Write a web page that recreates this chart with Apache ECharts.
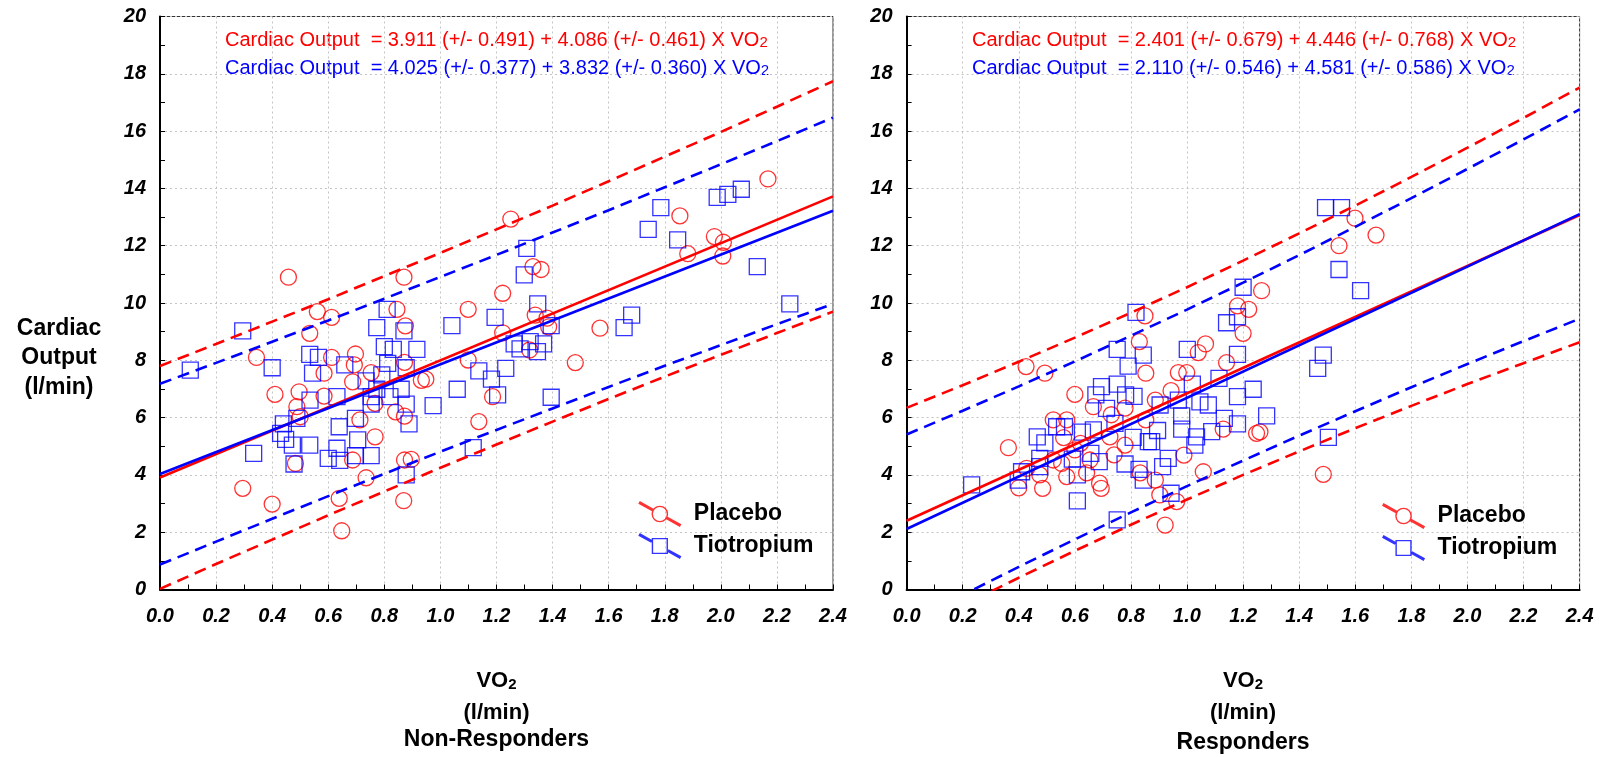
<!DOCTYPE html>
<html><head><meta charset="utf-8">
<script src="https://cdn.jsdelivr.net/npm/echarts@6/dist/echarts.min.js"></script>
<style>html,body{margin:0;padding:0;background:#fff}#c{width:1604px;height:757px}</style>
</head><body><div id="c"></div>
<script>
// ---------- DATA ----------
const xTickLabels = ['0.0','0.2','0.4','0.6','0.8','1.0','1.2','1.4','1.6','1.8','2.0','2.2','2.4'];
const yTickLabels = ['0','2','4','6','8','10','12','14','16','18','20'];
const panelTitles = ['Non-Responders', 'Responders'];
const seriesNames = ['Placebo', 'Tiotropium'];

const nrEquations = [
  'Cardiac Output  = 3.911 (+/- 0.491) + 4.086 (+/- 0.461) X VO',
  'Cardiac Output  = 4.025 (+/- 0.377) + 3.832 (+/- 0.360) X VO'
];
const rEquations = [
  'Cardiac Output  = 2.401 (+/- 0.679) + 4.446 (+/- 0.768) X VO',
  'Cardiac Output  = 2.110 (+/- 0.546) + 4.581 (+/- 0.586) X VO'
];

// Non-Responders, Placebo (VO2, Cardiac Output)
const nrPlacebo = [
  [0.458,10.90],[0.870,10.90],[0.561,9.70],[0.612,9.50],[0.534,8.94],[0.845,9.78],[0.875,9.20],
  [0.344,8.10],[0.612,8.10],[0.697,8.22],[0.585,7.55],[0.693,7.84],[0.753,7.57],[0.687,7.25],
  [0.872,7.93],[0.932,7.30],[0.410,6.81],[0.496,6.90],[0.488,6.38],[0.500,6.03],[0.713,5.92],
  [0.767,6.50],[0.767,5.33],[0.872,6.05],[0.872,4.52],[0.896,4.54],[0.687,4.52],[0.483,4.40],
  [0.735,3.90],[0.295,3.53],[0.400,2.98],[0.639,3.18],[0.869,3.10],[0.648,2.05],[0.585,6.75],
  [0.840,6.20],
  [1.251,12.93],[1.330,11.27],[1.359,11.17],[1.222,10.34],[1.099,9.78],[1.338,9.58],[1.380,9.47],
  [1.386,9.17],[1.222,8.96],[1.569,9.12],[1.099,8.01],[1.481,7.92],[0.948,7.34],[1.186,6.73],
  [1.137,5.86],[1.318,8.36],
  [2.168,14.33],[1.854,13.04],[1.977,12.32],[2.009,12.12],[2.007,11.64],[1.882,11.72]
];
// Non-Responders, Tiotropium
const nrTiotropium = [
  [0.108,7.66],[0.295,9.03],[0.400,7.74],[0.810,9.78],[0.773,9.14],[0.870,9.03],[0.800,8.48],
  [0.832,8.38],[0.916,8.38],[0.534,8.21],[0.565,8.10],[0.544,7.55],[0.659,7.84],[0.812,7.89],
  [0.878,7.74],[0.735,7.28],[0.791,7.49],[0.773,6.99],[0.860,6.99],[0.820,6.73],[0.878,6.47],
  [0.753,6.73],[0.753,6.47],[0.535,6.61],[0.631,6.73],[0.888,5.78],[0.488,5.97],[0.440,5.78],
  [0.697,5.97],[0.639,5.68],[0.430,5.45],[0.448,5.24],[0.472,5.04],[0.534,5.04],[0.705,5.22],
  [0.631,4.93],[0.600,4.58],[0.641,4.51],[0.697,4.67],[0.753,4.67],[0.478,4.38],[0.334,4.75],
  [0.878,4.00],
  [1.308,11.91],[1.299,10.98],[1.347,9.97],[1.195,9.50],[1.041,9.21],[1.395,9.21],[1.263,8.57],
  [1.320,8.65],[1.368,8.57],[1.284,8.40],[1.346,8.30],[1.137,7.63],[1.233,7.72],[1.182,7.34],
  [1.060,6.99],[1.204,6.79],[0.974,6.42],[1.395,6.71],[1.117,4.95],
  [1.786,13.33],[1.741,12.57],[1.846,12.20],[1.987,13.69],[2.025,13.79],[2.073,13.97],
  [2.130,11.27],[2.246,9.97],[1.655,9.14],[1.682,9.58]
];
// Responders, Placebo
const rPlacebo = [
  [0.426,7.78],[0.493,7.55],[0.600,6.81],[0.830,8.65],[0.850,9.55],[0.853,7.55],[0.523,5.92],
  [0.571,5.92],[0.666,6.38],[0.779,6.33],[0.363,4.95],[0.428,4.23],[0.475,4.00],[0.485,3.53],
  [0.553,4.40],[0.571,3.94],[0.688,3.71],[0.694,3.53],[0.725,5.33],[0.779,5.04],[0.600,4.87],
  [0.654,4.52],[0.642,4.07],[0.853,5.92],[0.833,4.07],[0.523,4.52],[0.400,3.55],[0.620,5.10],
  [0.740,4.70],[0.560,5.30],[0.730,6.10],
  [1.266,10.43],[1.180,9.90],[1.220,9.78],[1.200,8.94],[1.066,8.57],[1.040,8.27],[1.141,7.92],
  [0.969,7.57],[0.999,7.57],[0.943,6.94],[0.887,6.61],[1.248,5.45],[1.260,5.50],[0.989,4.69],
  [1.058,4.11],[0.903,3.30],[0.963,3.07],[0.922,2.25],[1.129,5.60],[0.887,3.82],
  [1.599,12.96],[1.674,12.37],[1.542,12.00],[1.486,4.02]
];
// Responders, Tiotropium
const rTiotropium = [
  [0.818,9.67],[0.751,8.38],[0.790,7.80],[0.844,8.18],[0.695,7.08],[0.751,7.17],[0.675,6.79],
  [0.781,6.79],[0.811,6.74],[0.713,6.32],[0.743,5.80],[0.535,5.68],[0.563,5.68],[0.466,5.33],
  [0.493,5.12],[0.627,5.49],[0.666,5.57],[0.808,5.31],[0.862,5.16],[0.475,4.58],[0.475,4.29],
  [0.410,4.11],[0.398,3.82],[0.591,4.55],[0.657,4.75],[0.687,4.46],[0.609,4.00],[0.779,4.38],
  [0.829,4.19],[0.844,3.82],[0.232,3.65],[0.609,3.09],[0.751,2.43],
  [1.200,10.55],[1.180,9.52],[1.141,9.31],[1.180,8.21],[1.001,8.38],[1.114,7.37],[1.019,7.17],
  [1.236,6.99],[1.180,6.73],[1.076,6.44],[0.969,6.61],[0.904,6.44],[1.046,6.55],[1.284,6.06],
  [0.981,6.06],[1.133,5.97],[1.180,5.78],[1.088,5.51],[1.034,5.33],[0.981,5.60],[0.895,5.55],
  [0.874,5.16],[1.028,5.04],[0.933,4.58],[0.913,4.29],[0.943,3.36],
  [1.494,13.33],[1.551,13.33],[1.542,11.17],[1.619,10.43],[1.486,8.18],[1.466,7.72],[1.504,5.31]
];

// regression lines (end points)
const nrPlaceboFit = [[0, 3.91], [2.4, 13.72]];
const nrTiotropiumFit = [[0, 4.03], [2.4, 13.22]];
const rPlaceboFit = [[0, 2.40], [2.4, 13.07]];
const rTiotropiumFit = [[0, 2.11], [2.4, 13.10]];

// prediction bands (dashed), sampled at bandX
const bandX = [0, 0.2, 0.4, 0.6, 0.8, 1.0, 1.2, 1.4, 1.6, 1.8, 2.0, 2.2, 2.4];
const nrPlaceboUpper = [7.80, 8.57, 9.35, 10.13, 10.94, 11.75, 12.57, 13.40, 14.25, 15.11, 15.97, 16.85, 17.74];
const nrPlaceboLower = [0.02, 0.89, 1.74, 2.59, 3.42, 4.25, 5.06, 5.86, 6.65, 7.43, 8.19, 8.95, 9.70];
const nrTiotropiumUpper = [7.18, 7.91, 8.65, 9.39, 10.15, 10.91, 11.68, 12.46, 13.24, 14.04, 14.84, 15.65, 16.47];
const nrTiotropiumLower = [0.87, 1.67, 2.47, 3.26, 4.04, 4.81, 5.57, 6.32, 7.07, 7.81, 8.53, 9.26, 9.97];
const rPlaceboUpper = [6.34, 7.13, 7.95, 8.79, 9.66, 10.55, 11.48, 12.43, 13.40, 14.40, 15.42, 16.46, 17.52];
const rPlaceboLower = [-1.54, -0.55, 0.41, 1.35, 2.26, 3.14, 4.00, 4.82, 5.63, 6.41, 7.17, 7.90, 8.63];
const rTiotropiumUpper = [5.41, 6.24, 7.09, 7.96, 8.86, 9.77, 10.71, 11.67, 12.66, 13.66, 14.68, 15.71, 16.76];
const rTiotropiumLower = [-1.19, -0.19, 0.79, 1.75, 2.69, 3.61, 4.50, 5.37, 6.22, 7.06, 7.87, 8.67, 9.45];

// ---------- STYLE / BUILD ----------
const RED = '#ff0000', BLUE = '#0000ff';
const FONT = "'Liberation Sans', Arial, Helvetica, sans-serif";
const GRIDS = [
  {left: 160, top: 16.5, width: 673, height: 573},
  {left: 906.6, top: 16.5, width: 673, height: 573}
];

const circleIcon = 'path://M1.46,0 L15.42,7.83 L13.96,10.45 L0,2.62 Z ' +
  'M28.5,15.17 L42.46,23 L41,25.62 L27.04,17.79 Z ' +
  'M29.43,12.81 A8.2,8.2 0 1,1 13.03,12.81 A8.2,8.2 0 1,1 29.43,12.81 Z ' +
  'M28.03,12.81 A6.8,6.8 0 1,0 14.43,12.81 A6.8,6.8 0 1,0 28.03,12.81 Z';
const squareIcon = 'path://M1.46,0 L14.11,7.10 L12.65,9.72 L0,2.62 Z ' +
  'M29.81,15.90 L42.46,23 L41,25.62 L28.35,18.52 Z ' +
  'M13.23,4.81 L29.23,4.81 L29.23,20.81 L13.23,20.81 Z ' +
  'M14.63,6.21 L14.63,19.41 L27.83,19.41 L27.83,6.21 Z';

function pairs(ys) { return bandX.map((x, i) => [x, ys[i]]); }

function scatter(name, data, idx, symbol, color) {
  return {type: 'scatter', name, data, xAxisIndex: idx, yAxisIndex: idx, symbol,
    symbolSize: 16, color, itemStyle: {color: 'rgba(0,0,0,0)', borderColor: color, borderWidth: 1.3},
    silent: true, z: 2, emphasis: {disabled: true}};
}
function line(name, data, idx, color, dashed) {
  return {type: 'line', name, data, xAxisIndex: idx, yAxisIndex: idx, symbol: 'none', showSymbol: false,
    color, lineStyle: {color, width: 2.6, type: dashed ? [12, 7] : 'solid'}, silent: true, z: 3,
    clip: true, emphasis: {disabled: true}};
}
function xAx(i) {
  return {type: 'value', gridIndex: i, min: 0, max: 2.4, interval: 0.2,
    axisLine: {show: true, onZero: false, lineStyle: {color: '#000', width: 2}},
    axisTick: {show: true, inside: true, length: 5, lineStyle: {color: '#000', width: 1}},
    minorTick: {show: true, splitNumber: 2, length: 5, lineStyle: {color: '#000', width: 1}},
    splitLine: {show: true, lineStyle: {color: '#c4c4c4', width: 1, type: [2, 3]}},
    axisLabel: {show: true, margin: 17, color: '#000', fontFamily: FONT, fontSize: 20,
      fontWeight: 'bold', fontStyle: 'italic',
      formatter: v => xTickLabels[Math.round(v / 0.2)]}};
}
function yAx(i) {
  return {type: 'value', gridIndex: i, min: 0, max: 20, interval: 2,
    axisLine: {show: true, onZero: false, lineStyle: {color: '#000', width: 2}},
    axisTick: {show: true, inside: true, length: 5, lineStyle: {color: '#000', width: 1}},
    minorTick: {show: true, splitNumber: 2, length: 5, lineStyle: {color: '#000', width: 1}},
    splitLine: {show: true, lineStyle: {color: '#c4c4c4', width: 1, type: [2, 3]}},
    axisLabel: {show: true, margin: 14, color: '#000', fontFamily: FONT, fontSize: 20,
      fontWeight: 'bold', fontStyle: 'italic',
      formatter: v => yTickLabels[Math.round(v / 2)]}};
}
function legend(left, top) {
  return {orient: 'vertical', left, top, padding: 0, itemWidth: 58, itemHeight: 26, itemGap: 6,
    selectedMode: false,
    textStyle: {fontFamily: FONT, fontSize: 23, fontWeight: 'bold', color: '#000'},
    data: [
      {name: seriesNames[0], icon: circleIcon, itemStyle: {color: RED, borderWidth: 0}},
      {name: seriesNames[1], icon: squareIcon, itemStyle: {color: BLUE, borderWidth: 0}}
    ]};
}
function eqText(x, y, str, color) {
  return {type: 'text', left: x, top: y, silent: true,
    style: {text: '{m|' + str + '}{s|2}',
      rich: {
        m: {fontFamily: FONT, fontSize: 20, fill: color, lineHeight: 24, verticalAlign: 'bottom'},
        s: {fontFamily: FONT, fontSize: 15, fill: color, lineHeight: 11, verticalAlign: 'bottom'}
      }}};
}
function vo2Title(cx, cy) {
  return [
    {type: 'text', x: cx, y: cy, silent: true,
      style: {text: '{m|VO}{s|2}', align: 'center', verticalAlign: 'middle',
        rich: {
          m: {fontFamily: FONT, fontSize: 22, fontWeight: 'bold', fill: '#000', lineHeight: 26, verticalAlign: 'bottom'},
          s: {fontFamily: FONT, fontSize: 15, fontWeight: 'bold', fill: '#000', lineHeight: 11, verticalAlign: 'bottom'}
        }}},
    {type: 'text', x: cx, y: cy + 34, silent: true,
      style: {text: '(l/min)', align: 'center', verticalAlign: 'middle', fontFamily: FONT,
        fontSize: 22, fontWeight: 'bold', fill: '#000'}}
  ];
}

const series = [
  scatter(seriesNames[0], nrPlacebo, 0, 'circle', RED),
  scatter(seriesNames[1], nrTiotropium, 0, 'rect', BLUE),
  scatter(seriesNames[0], rPlacebo, 1, 'circle', RED),
  scatter(seriesNames[1], rTiotropium, 1, 'rect', BLUE),
  line('NR Placebo fit', nrPlaceboFit, 0, RED, false),
  line('NR Placebo upper', pairs(nrPlaceboUpper), 0, RED, true),
  line('NR Placebo lower', pairs(nrPlaceboLower), 0, RED, true),
  line('NR Tiotropium fit', nrTiotropiumFit, 0, BLUE, false),
  line('NR Tiotropium upper', pairs(nrTiotropiumUpper), 0, BLUE, true),
  line('NR Tiotropium lower', pairs(nrTiotropiumLower), 0, BLUE, true),
  line('R Placebo fit', rPlaceboFit, 1, RED, false),
  line('R Placebo upper', pairs(rPlaceboUpper), 1, RED, true),
  line('R Placebo lower', pairs(rPlaceboLower), 1, RED, true),
  line('R Tiotropium fit', rTiotropiumFit, 1, BLUE, false),
  line('R Tiotropium upper', pairs(rTiotropiumUpper), 1, BLUE, true),
  line('R Tiotropium lower', pairs(rTiotropiumLower), 1, BLUE, true)
];

const graphic = [
  eqText(225, 30, nrEquations[0], RED),
  eqText(225, 58.5, nrEquations[1], BLUE),
  eqText(972, 30, rEquations[0], RED),
  eqText(972, 58.5, rEquations[1], BLUE),
  ...vo2Title(496.5, 679),
  ...vo2Title(1243, 679),
  {type: 'text', x: 496.5, y: 740, silent: true,
    style: {text: panelTitles[0], align: 'center', verticalAlign: 'middle', fontFamily: FONT,
      fontSize: 23, fontWeight: 'bold', fill: '#000'}},
  {type: 'text', x: 1243, y: 743, silent: true,
    style: {text: panelTitles[1], align: 'center', verticalAlign: 'middle', fontFamily: FONT,
      fontSize: 23, fontWeight: 'bold', fill: '#000'}},
  {type: 'text', x: 59, y: 358, silent: true,
    style: {text: 'Cardiac\nOutput\n(l/min)', align: 'center', verticalAlign: 'middle',
      fontFamily: FONT, fontSize: 23, fontWeight: 'bold', fill: '#000', lineHeight: 29.5}}
];

const chart = echarts.init(document.getElementById('c'), null, {renderer: 'canvas'});
chart.setOption({
  animation: false,
  backgroundColor: '#ffffff',
  grid: GRIDS.map(g => Object.assign({show: true, borderColor: '#333', borderWidth: 1,
    backgroundColor: 'transparent', containLabel: false, outerBoundsMode: 'none'}, g)),
  xAxis: [xAx(0), xAx(1)],
  yAxis: [yAx(0), yAx(1)],
  legend: [legend(638.3, 501), legend(1382, 503)],
  tooltip: {show: false},
  series,
  graphic
});
</script>
</body></html>
